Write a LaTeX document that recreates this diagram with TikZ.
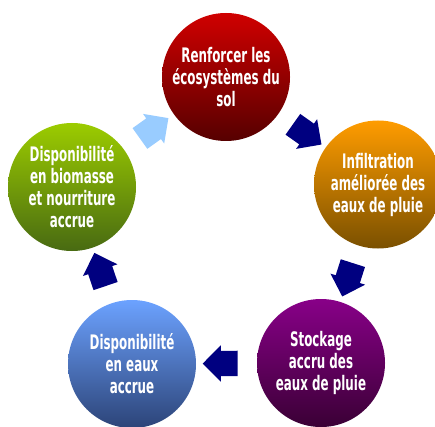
\documentclass[tikz,border=0pt]{standalone}
\usepackage{fontspec}
\newfontfamily\lblfont[FakeStretch=0.66]{DejaVu Sans Condensed Bold}
\usetikzlibrary{shapes.arrows}
\definecolor{solTop}{HTML}{D00000}
\definecolor{solBot}{HTML}{560000}
\definecolor{infTop}{HTML}{FF9C00}
\definecolor{infBot}{HTML}{7A5000}
\definecolor{stoTop}{HTML}{880088}
\definecolor{stoBot}{HTML}{3A0035}
\definecolor{eauTop}{HTML}{6CA2FF}
\definecolor{eauBot}{HTML}{2C4478}
\definecolor{bioTop}{HTML}{9CCC00}
\definecolor{bioBot}{HTML}{486A12}
\definecolor{navy}{HTML}{000080}
\definecolor{skyblue}{HTML}{99CCFF}
\tikzset{
  bubble/.style={circle, minimum size=128pt, inner sep=0pt, text=white,
    align=center, font=\lblfont\fontsize{20}{22}\selectfont},
  flow/.style={single arrow, fill=navy, draw=none, inner xsep=0pt,
    inner ysep=12.5pt, minimum height=35pt, minimum width=36pt,
    single arrow head extend=5.5pt, sloped, allow upside down}
}
\begin{document}
\begin{tikzpicture}[x=1pt,y=1pt]
      \useasboundingbox (0,0) rectangle (435,426);
      \path
        (226,349) node[bubble, top color=solTop, bottom color=solBot] (sol)
          {Renforcer les\\écosystèmes du\\sol}
        (378,241.5) node[bubble, top color=infTop, bottom color=infBot] (infil)
          {Infiltration\\améliorée des\\eaux de pluie}
        (321,63) node[bubble, top color=stoTop, bottom color=stoBot] (stock)
          {Stockage\\accru des\\eaux de pluie}
        (132,62) node[bubble, top color=eauTop, bottom color=eauBot] (eaux)
          {Disponibilité\\en eaux\\accrue}
        (72,239) node[bubble, top color=bioTop, bottom color=bioBot] (bio)
          {Disponibilité\\en biomasse\\et nourriture\\accrue};
      \begin{scope}[yshift=-3pt]
        \path (sol) -- (infil) node[flow, midway] (a1) {};
        \path (infil) -- (stock) node[flow, midway] (a2) {};
        \path (stock) -- (eaux) node[flow, midway] (a3) {};
        \path (eaux) -- (bio) node[flow, midway] (a4) {};
        \path (bio) -- (sol) node[flow, midway, fill=skyblue] (a5) {};
      \end{scope}
    \end{tikzpicture}
\end{document}
